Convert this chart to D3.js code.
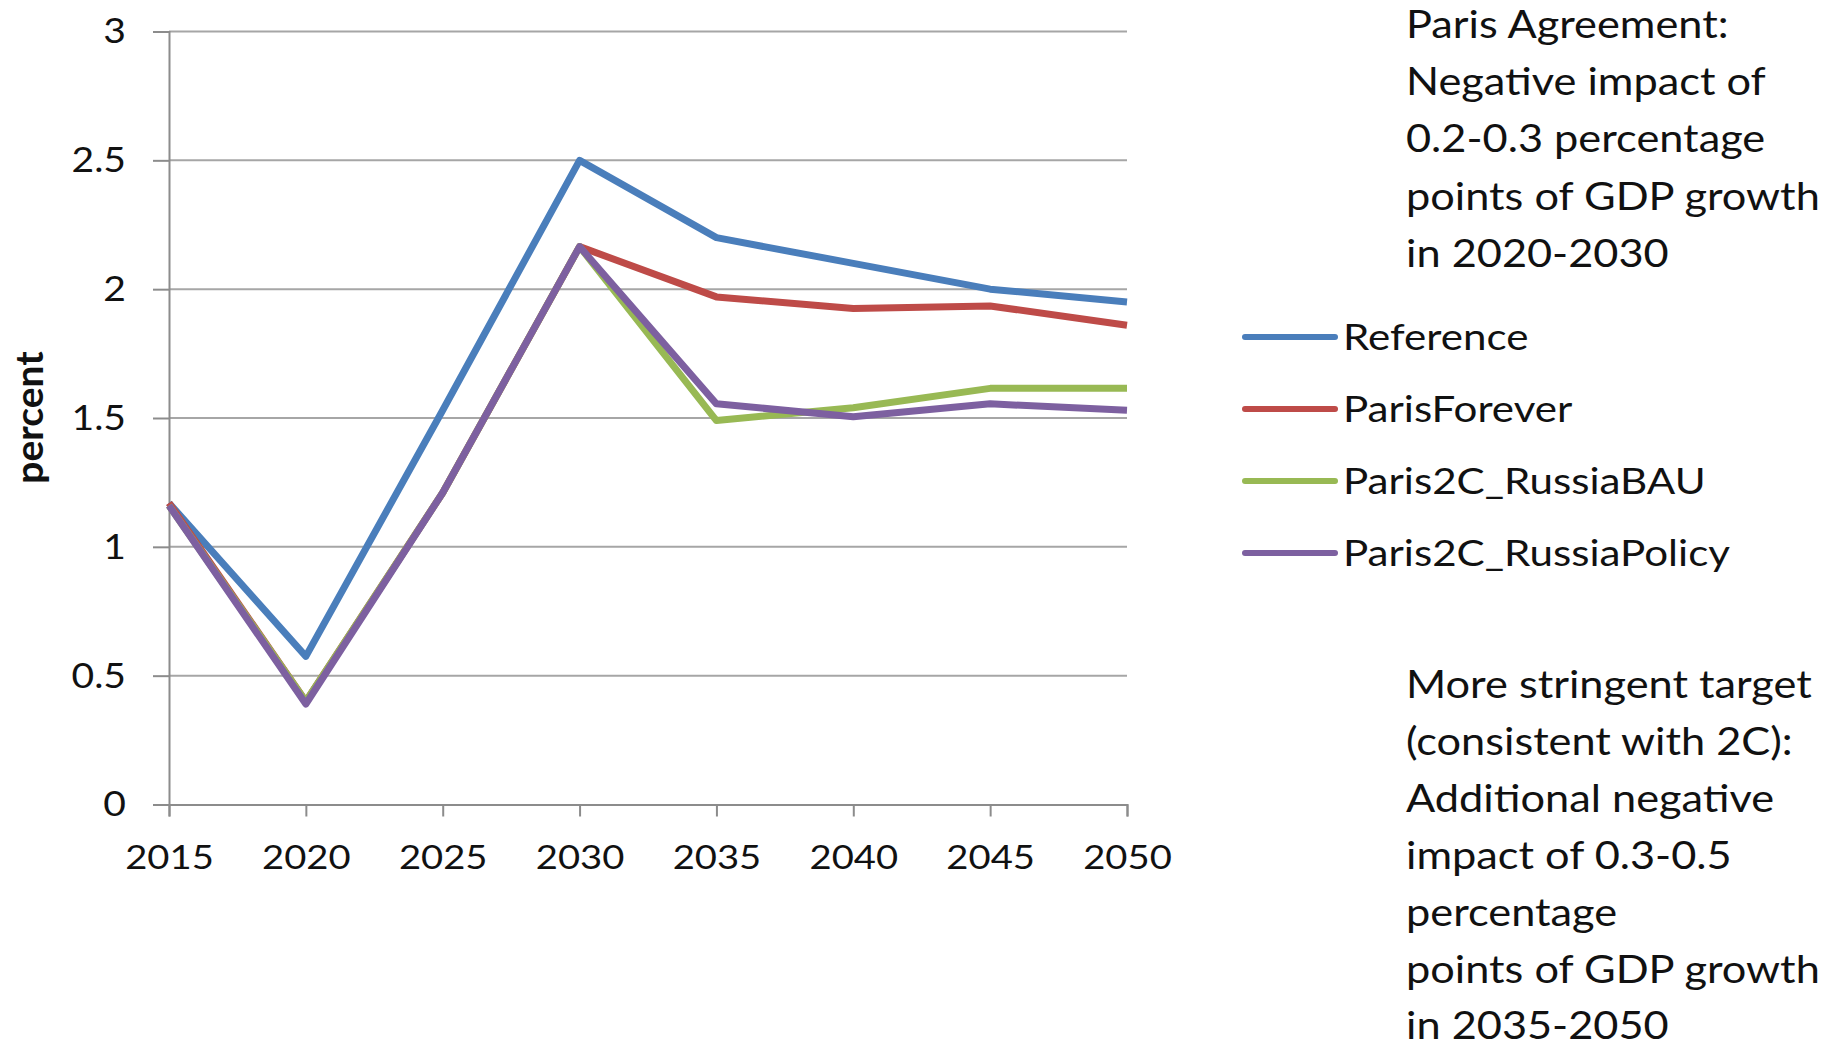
<!DOCTYPE html>
<html>
<head>
<meta charset="utf-8">
<script src="https://cdn.jsdelivr.net/npm/d3@7"></script>
<style>
  html, body { margin: 0; padding: 0; background: #fff; }
  svg { display: block; }
  text { font-family: Lato, "Noto Sans", sans-serif; fill: #111; }
</style>
</head>
<body>
<svg id="chart" width="1831" height="1049"></svg>
<script>
// Annual GDP growth of Russia under climate-policy scenarios (percent)
const years = [2015, 2020, 2025, 2030, 2035, 2040, 2045, 2050];
const reference         = [1.17, 0.575, 1.53, 2.50, 2.20, 2.10, 2.00, 1.95];
const parisForever      = [1.17, 0.40, 1.21, 2.165, 1.97, 1.925, 1.935, 1.86];
const paris2cRussiaBAU  = [1.16, 0.40, 1.21, 2.165, 1.49, 1.54, 1.615, 1.615];
const paris2cRussiaPol  = [1.16, 0.39, 1.21, 2.165, 1.555, 1.505, 1.555, 1.53];
const seriesNames  = ["Reference", "ParisForever", "Paris2C_RussiaBAU", "Paris2C_RussiaPolicy"];
const seriesColors = ["#4a7ebb", "#be4b48", "#98b954", "#7d60a0"];
const yTicks = [0, 0.5, 1, 1.5, 2, 2.5, 3];
const yTickLabels = ["0", "0.5", "1", "1.5", "2", "2.5", "3"];
const yTitle = "percent";
const noteTop = ["Paris Agreement:", "Negative impact of", "0.2-0.3 percentage", "points of GDP growth", "in 2020-2030"];
const noteBottom = ["More stringent target", "(consistent with 2C):", "Additional negative", "impact of 0.3-0.5", "percentage", "points of GDP growth", "in 2035-2050"];

const seriesValues = [reference, parisForever, paris2cRussiaBAU, paris2cRussiaPol];

const svg = d3.select("#chart");
const plot = { left: 169, right: 1127, top: 31.5, bottom: 804.5 };

const x = d3.scaleLinear().domain([2015, 2050]).range([plot.left, plot.right]);
const y = d3.scaleLinear().domain([0, 3]).range([plot.bottom, plot.top]);

// horizontal gridlines
svg.append("g").selectAll("line").data(yTicks.filter(t => t > 0)).join("line")
  .attr("x1", plot.left).attr("x2", plot.right)
  .attr("y1", d => y(d)).attr("y2", d => y(d))
  .attr("stroke", "#a6a6a6").attr("stroke-width", 2);

// y axis
const yAxis = svg.append("g").attr("transform", `translate(${plot.left},0)`)
  .call(d3.axisLeft(y).tickValues(yTicks).tickFormat((d, i) => yTickLabels[i]).tickSize(16));
yAxis.select(".domain").attr("stroke", "#8c8c8c").attr("stroke-width", 2);
yAxis.selectAll(".tick line").attr("stroke", "#8c8c8c").attr("stroke-width", 2);
yAxis.selectAll(".tick text")
  .attr("x", 0).attr("dy", "0.32em")
  .attr("transform", "translate(-43,0) scale(1.1,1)")
  .attr("font-size", 35.5).attr("fill", "#222")
  .attr("font-family", "Lato, sans-serif");

// x axis
const xAxis = svg.append("g").attr("transform", `translate(0,${plot.bottom})`)
  .call(d3.axisBottom(x).tickValues(years).tickFormat(d3.format("d")).tickSize(12));
xAxis.select(".domain").attr("stroke", "#8c8c8c").attr("stroke-width", 2);
xAxis.selectAll(".tick line").attr("stroke", "#8c8c8c").attr("stroke-width", 2);
xAxis.selectAll(".tick text")
  .attr("y", 0).attr("dy", 0)
  .attr("transform", "translate(0,64.5) scale(1.14,1)")
  .attr("font-size", 33.5).attr("fill", "#222")
  .attr("font-family", "Lato, sans-serif");

// y axis title
svg.append("text")
  .attr("transform", "translate(43,417.5) rotate(-90)")
  .attr("text-anchor", "middle")
  .attr("font-size", 39).attr("font-weight", "bold")
  .text(yTitle);

// series lines
const line = d3.line().x((d, i) => x(years[i])).y(d => y(d));
svg.append("g").selectAll("path").data(seriesValues).join("path")
  .attr("d", d => line(d))
  .attr("fill", "none")
  .attr("stroke", (d, i) => seriesColors[i])
  .attr("stroke-width", 7)
  .attr("stroke-linejoin", "round");

// legend
const legend = svg.append("g").attr("transform", "translate(1245,337)");
const rows = legend.selectAll("g").data(seriesNames).join("g")
  .attr("transform", (d, i) => `translate(0,${i * 72})`);
rows.append("line")
  .attr("x1", 0).attr("x2", 90).attr("y1", 0).attr("y2", 0)
  .attr("stroke", (d, i) => seriesColors[i])
  .attr("stroke-width", 6).attr("stroke-linecap", "round");
rows.append("text")
  .attr("transform", "translate(98,0) scale(1.17,1)")
  .attr("dy", "0.36em")
  .attr("font-size", 36).attr("fill", "#111")
  .text(d => d);

// annotations
const noteX = 1406;
svg.append("g").selectAll("text").data(noteTop).join("text")
  .attr("transform", (d, i) => `translate(${noteX},${38 + i * 57.2}) scale(1.14,1)`)
  .attr("font-size", 38).attr("fill", "#000")
  .text(d => d);
svg.append("g").selectAll("text").data(noteBottom).join("text")
  .attr("transform", (d, i) => `translate(${noteX},${698 + i * 56.9}) scale(1.14,1)`)
  .attr("font-size", 38).attr("fill", "#000")
  .text(d => d);
</script>
</body>
</html>
